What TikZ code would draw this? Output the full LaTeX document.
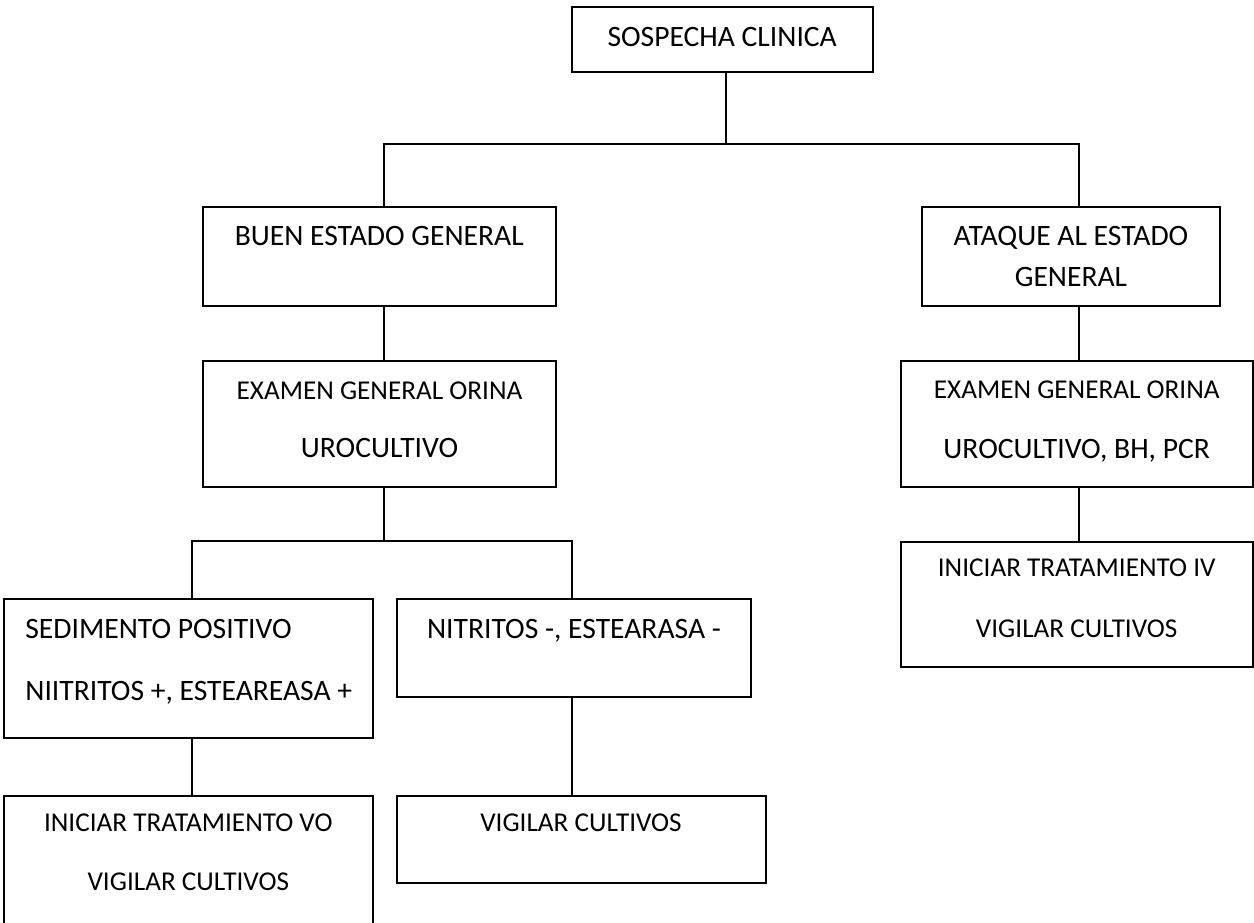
\documentclass[tikz,border=0pt]{standalone}
\usepackage{fontspec}
\setmainfont{Carlito}
\usetikzlibrary{fit}
\tikzset{
  box/.style={draw, line width=1pt, inner sep=0pt},
  link/.style={line width=1pt},
  big/.style={font=\fontsize{14.8}{17}\selectfont, anchor=base, inner sep=0pt},
  small/.style={font=\fontsize{13.6}{16}\selectfont, anchor=base, inner sep=0pt},
}
\begin{document}
\begin{tikzpicture}[x=0.5pt, y=-0.5pt]
\useasboundingbox (0,0) rectangle (1254,922);

% boxes
\node[box, fit={(571.7,7.3) (872.7,71.7)}] (sosp) {};
\node[box, fit={(202.7,206.7) (556,306)}] (buen) {};
\node[box, fit={(922.3,206.7) (1219.5,306)}] (ataque) {};
\node[box, fit={(202.7,360.7) (556,487.3)}] (exam1) {};
\node[box, fit={(900.7,360.7) (1252.5,487)}] (exam2) {};
\node[box, fit={(4,599.3) (372.7,737.7)}] (sed) {};
\node[box, fit={(396.7,599.3) (750.7,697.3)}] (nit) {};
\node[box, fit={(900.7,541.7) (1252.5,667)}] (iv) {};
\node[box, fit={(4,795.7) (372.7,935)}] (vo) {};
\node[box, fit={(396.7,795.7) (766,882.7)}] (vig) {};

% texts
\node[big] (tsosp) at (722.2,46.7) {SOSPECHA CLINICA};
\node[big] (tbuen) at (379.3,245) {BUEN ESTADO GENERAL};
\node[big] (tata1) at (1071,245) {ATAQUE AL ESTADO};
\node[big] (tata2) at (1071,286) {GENERAL};
\node[small] (tex1a) at (379.5,399.3) {EXAMEN GENERAL ORINA};
\node[big] (tex1b) at (379.5,457.3) {UROCULTIVO};
\node[small] (tex2a) at (1076.7,398.3) {EXAMEN GENERAL ORINA};
\node[big] (tex2b) at (1076.7,458.3) {UROCULTIVO, BH, PCR};
\node[small] (tiva) at (1076.7,576.7) {INICIAR TRATAMIENTO IV};
\node[small] (tivb) at (1076.7,637.3) {VIGILAR CULTIVOS};
\node[big, anchor=base west] (tseda) at (25,638.3) {SEDIMENTO POSITIVO};
\node[big, anchor=base west] (tsedb) at (25,700) {NIITRITOS +, ESTEAREASA +};
\node[big] (tnit) at (574,638.3) {NITRITOS -, ESTEARASA -};
\node[small] (tvoa) at (188.3,831.7) {INICIAR TRATAMIENTO VO};
\node[small] (tvob) at (188.3,890.7) {VIGILAR CULTIVOS};
\node[small] (tvig) at (581,831.7) {VIGILAR CULTIVOS};

% branch lines
\coordinate (cT) at (725.7,143.5);
\coordinate (cL) at (384,0);
\coordinate (cR) at (1078.7,0);
\coordinate (cS) at (192.3,0);
\coordinate (cN) at (571.7,0);
\coordinate (jB) at (384,541.3);

\draw[link] (sosp.south -| cT) -- (cT);
\draw[link] (buen.north -| cL) |- (cT) -| (ataque.north -| cR);
\draw[link] (buen.south -| cL) -- (exam1.north -| cL);
\draw[link] (ataque.south -| cR) -- (exam2.north -| cR);
\draw[link] (exam2.south -| cR) -- (iv.north -| cR);
\draw[link] (exam1.south -| cL) -- (jB);
\draw[link] (sed.north -| cS) |- (jB) -| (nit.north -| cN);
\draw[link] (sed.south -| cS) -- (vo.north -| cS);
\draw[link] (nit.south -| cN) -- (vig.north -| cN);
\end{tikzpicture}
\end{document}
